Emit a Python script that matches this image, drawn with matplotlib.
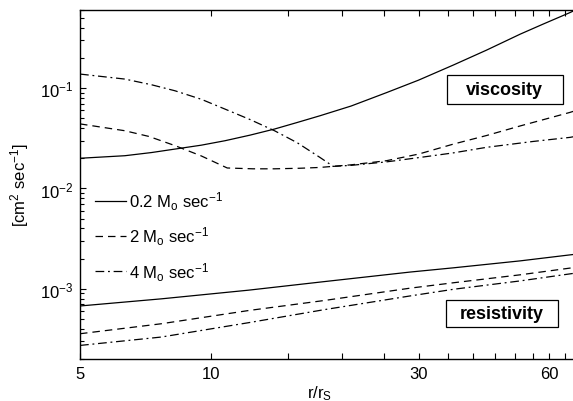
import matplotlib
matplotlib.use('Agg')
import matplotlib.pyplot as plt
from matplotlib.patches import Rectangle
from matplotlib.ticker import FixedLocator, FixedFormatter, LogLocator, NullFormatter

plt.rcParams['font.family'] = ['Liberation Sans', 'DejaVu Sans']
plt.rcParams['mathtext.fontset'] = 'custom'
plt.rcParams['mathtext.rm'] = 'Liberation Sans'
plt.rcParams['mathtext.it'] = 'Liberation Sans:italic'
plt.rcParams['mathtext.bf'] = 'Liberation Sans:bold'

# viscosity curves
visc_r1 = [5, 6.34, 7.3, 8.27, 9.5, 10.77, 12.3, 14.0, 15.8, 17.8, 21.0, 25.3, 30.0, 36.1, 43.0, 51.4, 58.0, 66.9, 70]
visc_02 = [0.0200, 0.0212, 0.0228, 0.0247, 0.0270, 0.0299, 0.034, 0.0391, 0.0455, 0.053, 0.0663, 0.090,
           0.12, 0.17, 0.239, 0.345, 0.434, 0.566, 0.62]

visc_r2 = [5, 6.34, 7.2, 8.27, 9.5, 10.9, 12.5, 14.0, 16.0, 17.8, 21.0, 25.3, 30.0, 36.1, 43.0, 51.4, 58.0, 66.9, 70]
visc_2 = [0.044, 0.0376, 0.0330, 0.0267, 0.0211, 0.0160, 0.0157, 0.0157, 0.0159, 0.0162, 0.0172, 0.0189,
          0.0220, 0.0277, 0.0337, 0.042, 0.0484, 0.0573, 0.061]

visc_r4 = [5, 6.34, 7.3, 8.27, 9.5, 10.77, 12.3, 14.0, 15.8, 17.8, 19.1, 21.0, 25.3, 30.3, 36.0, 43.0, 55.0, 66.9, 70]
visc_4 = [0.138, 0.123, 0.108, 0.094, 0.0774, 0.0618, 0.0486, 0.0376, 0.0285, 0.0204, 0.0166, 0.0170,
          0.0184, 0.0204, 0.0226, 0.0257, 0.0294, 0.0323, 0.0335]

# resistivity curves
res_r = [5, 7.69, 12.2, 18.2, 28.7, 36.1, 51.4, 66.9, 70]
res_02 = [6.75e-4, 7.95e-4, 9.7e-4, 1.18e-3, 1.47e-3, 1.62e-3, 1.9e-3, 2.18e-3, 2.23e-3]
res_2 = [3.57e-4, 4.49e-4, 6.08e-4, 7.65e-4, 1.016e-3, 1.15e-3, 1.38e-3, 1.61e-3, 1.66e-3]
res_4 = [2.73e-4, 3.31e-4, 4.6e-4, 6.2e-4, 8.5e-4, 9.9e-4, 1.2e-3, 1.41e-3, 1.45e-3]

labels = [r'0.2 M$_\mathrm{o}$ sec$^{-1}$', r'2 M$_\mathrm{o}$ sec$^{-1}$', r'4 M$_\mathrm{o}$ sec$^{-1}$']
xticks = [5, 10, 15, 20, 25, 30, 35, 40, 45, 50, 55, 60, 65, 70]
xticklabels = ['5', '10', '', '', '', '30', '', '', '', '', '', '60', '', '']

fig = plt.figure(figsize=(5.73, 4.02), dpi=100)
ax = fig.add_axes([80 / 573, 42 / 402, 498.6 / 573, 349 / 402])

lw = 0.9
dash = (0, (6, 4))
dashdot = (0, (7, 3, 1.5, 3))
ax.plot(visc_r1, visc_02, color='black', lw=lw, ls='-', label=labels[0])
ax.plot(visc_r2, visc_2, color='black', lw=lw, ls=dash, label=labels[1])
ax.plot(visc_r4, visc_4, color='black', lw=lw, ls=dashdot, label=labels[2])
ax.plot(res_r, res_02, color='black', lw=lw, ls='-')
ax.plot(res_r, res_2, color='black', lw=lw, ls=dash)
ax.plot(res_r, res_4, color='black', lw=lw, ls=dashdot)

ax.set_xscale('log')
ax.set_yscale('log')
ax.set_xlim(5, 70)
ax.set_ylim(2e-4, 6e-1)

ax.xaxis.set_major_locator(FixedLocator(xticks))
ax.xaxis.set_major_formatter(FixedFormatter(xticklabels))
ax.xaxis.set_minor_locator(FixedLocator([]))
ax.yaxis.set_major_locator(LogLocator(base=10))
ax.yaxis.set_minor_locator(LogLocator(base=10, subs=range(2, 10)))
ax.yaxis.set_minor_formatter(NullFormatter())

ax.tick_params(which='both', direction='in', top=True, right=False, labelsize=12, width=0.8)
ax.tick_params(which='major', length=4, pad=5)
ax.tick_params(which='minor', length=3)
ax.spines['right'].set_visible(False)
for s in ['left', 'bottom', 'top']:
    ax.spines[s].set_linewidth(1.0)

ax.set_xlabel(r'r/r$_\mathrm{S}$', fontsize=12, labelpad=2)
ax.xaxis.set_label_coords(0.48, -0.07)
ax.set_ylabel(r'[cm$^2$ sec$^{-1}$]', fontsize=12, labelpad=6)

ax.legend(loc='upper left', bbox_to_anchor=(0.0, 0.528), frameon=False, fontsize=12,
          handlelength=1.85, handletextpad=0.2, labelspacing=0.75, borderaxespad=0.5)

# framed labels
ax.add_patch(Rectangle((0.736, 0.7307), 0.2327, 0.0831, transform=ax.transAxes,
                       facecolor='white', edgecolor='black', lw=0.9, zorder=3))
ax.text(0.852, 0.772, 'viscosity', fontsize=13, fontweight='bold', ha='center', va='center',
        transform=ax.transAxes, zorder=4)
ax.add_patch(Rectangle((0.734, 0.0917), 0.2246, 0.0774, transform=ax.transAxes,
                       facecolor='white', edgecolor='black', lw=0.9, zorder=3))
ax.text(0.846, 0.130, 'resistivity', fontsize=13, fontweight='bold', ha='center', va='center',
        transform=ax.transAxes, zorder=4)

fig.savefig('out.png', dpi=100)
plt.close()
